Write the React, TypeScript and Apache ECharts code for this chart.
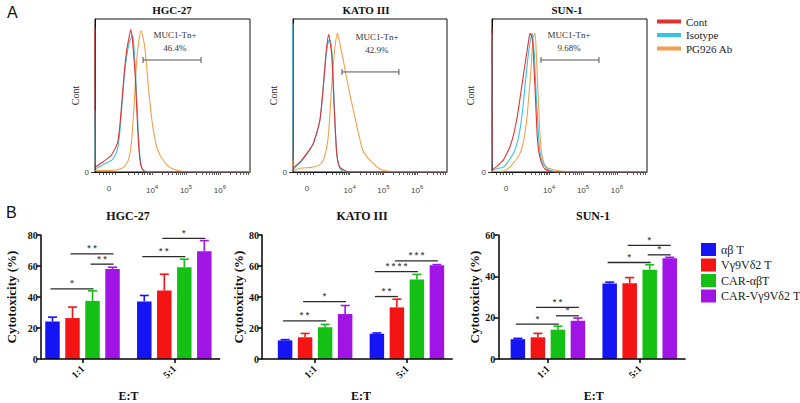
import { useEffect, useRef } from 'react';
import * as echarts from 'echarts';

const SERIF = '"Liberation Serif", "Times New Roman", serif';
const SANS = '"Liberation Sans", Arial, sans-serif';

// ---------------- Panel A: flow cytometry histograms ----------------
const histTitles = ['HGC-27', 'KATO III', 'SUN-1'];
const histNames = ['Cont', 'Isotype', 'PG926 Ab'];
const histColors = ['#e0342f', '#33c4e8', '#f2a04c'];
const gateName = 'MUC1-Tn+';
const gatePercents = ['46.4%', '42.9%', '9.68%'];
// [gateStart, gateEnd, gateY, labelX, labelY]
const gates = [
  [31, 68.4, 73.2, 51.6, 89.5],
  [31.8, 68.8, 65.4, 54.5, 88.2],
  [31.6, 69, 73.2, 49.7, 89.5],
];
const fluorTickLabels = ['0', '10^4', '10^5', '10^6'];
const fluorTickPos = [9, 36.8, 58.7, 80.6];

const hgcCont = [[0, 94], [0.6, 3.5], [5.2, 6.7], [9.7, 10], [11.8, 13], [14.5, 19], [16, 30], [17.5, 48], [19, 66], [20.5, 80], [22, 88], [23, 93], [24, 88], [25, 76], [26, 62], [27, 40], [28, 20], [29, 8], [30, 3], [31.5, 0.8], [34, 0], [100, 0]];
const hgcIso = [[0, 40], [0.5, 2], [5.2, 4.8], [10.8, 7.8], [13, 11], [14.5, 15], [16, 26], [17.5, 45], [19, 64], [20.5, 76], [22, 84], [23.5, 88], [24.3, 89.5], [25.2, 80], [26.2, 64], [27.2, 42], [28, 25], [29, 10], [30, 3.5], [31.5, 0.8], [34, 0], [100, 0]];
const hgcPg = [[0, 1], [10, 1], [16, 2], [19, 3.5], [21.5, 7.8], [23, 15], [24, 25], [25, 40], [26, 58], [27, 74], [28.2, 85], [29.7, 92.4], [31, 88], [32.3, 80], [33.4, 68], [34.5, 55], [35.6, 44], [36.8, 33], [38.2, 24], [39.8, 16.5], [42, 11], [44, 7.8], [46, 5], [48.4, 3], [51, 1.8], [54, 0.8], [58, 0.3], [100, 0.2]];

const katoCont = [[0, 0], [0.5, 3], [2.4, 4.6], [5, 7], [8.9, 12], [11, 15], [13.2, 18.7], [15.5, 26], [17.5, 34], [18.7, 45], [19.7, 56], [20.8, 70], [21.9, 82], [23.2, 90], [24.2, 84], [25.1, 77], [25.9, 62], [26.6, 45], [27.5, 27], [28.4, 12], [29.4, 6], [30.5, 3], [33.8, 0.8], [36, 0], [100, 0]];
const katoIso = [[0, 97], [0.4, 2], [2.4, 4], [5, 6.5], [8.9, 11.5], [13.2, 18.5], [17.5, 34], [19.7, 56], [21.9, 80], [23.4, 86], [24.2, 86], [25.2, 80], [26, 64], [26.8, 44], [27.6, 25], [28.4, 12], [29.5, 5], [31, 1.5], [34, 0], [100, 0]];
const katoPg = [[0, 8], [0.5, 1], [5, 2.5], [12, 3], [17, 4.5], [19.7, 7.8], [21.5, 14], [22.9, 23], [24, 38], [25.1, 56], [26.2, 70], [27.3, 82], [28.8, 90.6], [29.6, 88], [30.5, 84], [31.6, 78], [32.7, 73], [34.3, 64], [35.9, 56], [37.5, 48], [39.2, 40.5], [40.8, 33], [42.4, 25.5], [43.5, 21], [44.6, 16.5], [46.2, 12.5], [47.9, 10], [50, 7.5], [52.1, 5.7], [54.3, 3.5], [56.5, 2], [60, 0.8], [63, 0.4], [100, 0.2]];

const sunCont = [[0, 93], [0.5, 2], [3, 3.5], [5.2, 5.6], [7.3, 7.8], [9.5, 12], [11.6, 16.5], [13.8, 24], [15.9, 34], [17.5, 44], [19.2, 56], [20.8, 67], [22.4, 77.6], [23.5, 85], [24.5, 90.6], [25.5, 89], [26.3, 84], [27, 70], [27.7, 56], [28.5, 38], [29.2, 23], [30.2, 13], [31.4, 7.8], [32.8, 4], [34.2, 2], [37.4, 0.5], [40, 0], [100, 0]];
const sunIso = [[0, 90], [0.5, 1.5], [4, 2.5], [7.3, 3], [10.5, 7], [13.7, 12], [16, 18], [18, 27.5], [19.7, 40], [21.3, 56], [22.7, 70], [24.1, 82], [25.8, 90.6], [26.6, 85], [27.3, 77.6], [28, 62], [28.8, 45], [29.7, 30], [30.5, 16.5], [31.7, 9], [33, 5.7], [34.5, 3.5], [36.1, 2], [39.4, 0.5], [42, 0], [100, 0]];
const sunPg = [[0, 0.5], [7, 0.5], [10, 2], [13.7, 5.7], [18, 12], [20.3, 20], [22.4, 34], [23.8, 50], [25, 64.5], [25.8, 78], [26.6, 88.4], [27.7, 90.6], [28.3, 84], [28.8, 73], [29.6, 54], [30.5, 34], [31.2, 21], [32, 12], [33.5, 6], [35.3, 3], [38, 2], [41.8, 1], [48, 0.3], [100, 0.2]];

const histograms = [
  [hgcCont, hgcIso, hgcPg],
  [katoCont, katoIso, katoPg],
  [sunCont, sunIso, sunPg],
];

// ---------------- Panel B: cytotoxicity bars ----------------
const barTitles = ['HGC-27', 'KATO III', 'SUN-1'];
const ratios = ['1:1', '5:1'];
const groups = ['αβ T', 'Vγ9Vδ2 T', 'CAR-αβT', 'CAR-Vγ9Vδ2 T'];
const groupColors = ['#1414f5', '#f51414', '#14c014', '#a014e6'];

const hgcMean11 = [24.2, 26.4, 37.5, 58.1];
const hgcErr11 = [2.8, 7.1, 6.5, 1.1];
const hgcMean51 = [37.1, 44.2, 59.2, 69.5];
const hgcErr51 = [3.9, 10.5, 5.2, 6.9];
const katoMean11 = [12, 14, 20.5, 29];
const katoErr11 = [0.5, 2.5, 1.8, 5.5];
const katoMean51 = [16.3, 33.3, 51.3, 60.5];
const katoErr51 = [0.5, 5.3, 3.3, 0.4];
const sunMean11 = [9.6, 10.5, 14.2, 18.5];
const sunErr11 = [0.4, 1.9, 1.7, 1.3];
const sunMean51 = [36.5, 36.6, 43.2, 48.8];
const sunErr51 = [0.7, 2.8, 2.4, 0.4];
const yMaxes = [80, 80, 60];

// [ratioIndex, fromGroup, toGroup, y, stars]
const hgcSig = [[0, 0, 2, 45.2, '*'], [0, 1, 3, 67.8, '**'], [0, 2, 3, 61.2, '**'], [1, 0, 2, 66, '**'], [1, 1, 3, 77.8, '*']];
const katoSig = [[0, 0, 2, 24.6, '**'], [0, 1, 3, 37, '*'], [1, 0, 1, 40.3, '**'], [1, 0, 2, 56.4, '****'], [1, 1, 3, 63.3, '***']];
const sunSig = [[0, 0, 2, 16.9, '*'], [0, 1, 3, 25, '**'], [0, 2, 3, 20.9, '*'], [1, 0, 2, 46.7, '*'], [1, 1, 3, 55, '*'], [1, 2, 3, 50.4, '*']];

const barData = [
  { m11: hgcMean11, e11: hgcErr11, m51: hgcMean51, e51: hgcErr51, sig: hgcSig },
  { m11: katoMean11, e11: katoErr11, m51: katoMean51, e51: katoErr51, sig: katoSig },
  { m11: sunMean11, e11: sunErr11, m51: sunMean51, e51: sunErr51, sig: sunSig },
];

// ---------------- layout (positions/styles only) ----------------
const histLayout = [
  { left: 95, width: 155, nameGap: 11 },
  { left: 293, width: 154, nameGap: 15 },
  { left: 492, width: 155, nameGap: 17 },
];
const HIST_TOP = 19;
const HIST_H = 153;
const barLayout = [
  { left: 36.6, offset: -4.1, nameGap: 23 },
  { left: 269.2, offset: 7.2, nameGap: 15 },
  { left: 502, offset: 3.7, nameGap: 15 },
];
const BAR_W_GRID = 183.6;
const BAR_TOP = 235;
const BAR_H = 124.5;
const BAR_W = 14.5;
const BAR_GAP = 0.38;
const PITCH = BAR_W * (1 + BAR_GAP);
const CAP = 9;

function minorTicks(): number[] {
  const w = fluorTickPos[2] - fluorTickPos[1];
  const out: number[] = [3, 5, 7, 9, 11, 13];
  for (let d = -1; d <= 3; d++) {
    const base = fluorTickPos[1] + d * w;
    for (let k = 1; k <= 9; k++) {
      const p = base + Math.log10(k) * w;
      if (p > 15 && p < 100) out.push(+p.toFixed(2));
    }
  }
  return out;
}

export default function App() {
  const ref = useRef<HTMLDivElement>(null);

  useEffect(() => {
    if (!ref.current) return;
    const chart = echarts.init(ref.current, undefined, { renderer: 'svg' });

    const grids: any[] = [];
    const xAxes: any[] = [];
    const yAxes: any[] = [];
    const series: any[] = [];
    const ticks = minorTicks();

    // ---- histograms ----
    histLayout.forEach((L, i) => {
      grids.push({
        left: L.left, top: HIST_TOP, width: L.width, height: HIST_H,
        show: true, borderColor: '#111', borderWidth: 1, containLabel: false,
      });
      xAxes.push({
        type: 'value', gridIndex: i, min: 0, max: 100,
        axisLine: { show: true, lineStyle: { color: '#111', width: 1 } },
        axisTick: { show: true, customValues: ticks, length: 3, lineStyle: { color: '#333', width: 0.8 } },
        axisLabel: {
          show: true, customValues: fluorTickPos, margin: 12,
          formatter: (v: number) => {
            const idx = fluorTickPos.findIndex((p) => Math.abs(p - v) < 1e-6);
            const s = fluorTickLabels[idx] ?? '';
            if (s.includes('^')) {
              const [b, e] = s.split('^');
              return `{b|${b}}{s|${e}}`;
            }
            return `{b|${s}}`;
          },
          rich: {
            b: { fontSize: 8, color: '#444', fontFamily: SANS },
            s: { fontSize: 6, color: '#444', fontFamily: SANS, padding: [0, 0, 7, 0] },
          },
        },
        splitLine: { show: false },
      });
      yAxes.push({
        type: 'value', gridIndex: i, min: 0, max: 100,
        name: 'Cont', nameLocation: 'middle', nameGap: L.nameGap, nameRotate: 90,
        nameTextStyle: { fontFamily: SERIF, fontSize: 10, color: '#222' },
        axisLine: { show: true, lineStyle: { color: '#111', width: 1 } },
        axisTick: { show: true, customValues: [0], length: 4, lineStyle: { color: '#333' } },
        axisLabel: { show: true, customValues: [0], fontSize: 8, color: '#444', fontFamily: SANS, margin: 6 },
        splitLine: { show: false },
      });
      const curves = histograms[i];
      [2, 1, 0].forEach((k) => {
        series.push({
          type: 'line', name: histNames[k], xAxisIndex: i, yAxisIndex: i,
          data: curves[k], showSymbol: false, symbol: 'none', smooth: 0.2,
          lineStyle: { color: histColors[k], width: 1.1 },
          itemStyle: { color: histColors[k] },
          clip: true, z: 3,
        });
      });
      const g = gates[i];
      series.push({
        type: 'custom', xAxisIndex: i, yAxisIndex: i, z: 5,
        data: [g],
        renderItem: (_p: any, api: any) => {
          const a = api.coord([api.value(0), api.value(2)]);
          const b = api.coord([api.value(1), api.value(2)]);
          const t = api.coord([api.value(3), api.value(4)]);
          const st = { stroke: '#555', lineWidth: 1 };
          return {
            type: 'group',
            children: [
              { type: 'line', shape: { x1: a[0], y1: a[1], x2: b[0], y2: b[1] }, style: st },
              { type: 'line', shape: { x1: a[0], y1: a[1] - 3, x2: a[0], y2: a[1] + 3 }, style: st },
              { type: 'line', shape: { x1: b[0], y1: b[1] - 3, x2: b[0], y2: b[1] + 3 }, style: st },
              { type: 'text', x: t[0], y: t[1], style: { text: gateName, align: 'center', verticalAlign: 'middle', font: `9px ${SERIF}`, fill: '#333' } },
              { type: 'text', x: t[0], y: t[1] + 13, style: { text: gatePercents[i], align: 'center', verticalAlign: 'middle', font: `9px ${SERIF}`, fill: '#333' } },
            ],
          };
        },
      });
    });

    // ---- bar charts ----
    barLayout.forEach((L, j) => {
      const gi = 3 + j;
      const D = barData[j];
      grids.push({ left: L.left, top: BAR_TOP, width: BAR_W_GRID, height: BAR_H, containLabel: false });
      xAxes.push({
        type: 'category', gridIndex: gi, data: ratios,
        axisLine: { show: false },
        axisTick: { show: true, alignWithLabel: true, length: 4, lineStyle: { color: '#000', width: 1.5 } },
        axisLabel: { rotate: 45, fontFamily: SERIF, fontWeight: 'bold', fontSize: 10, color: '#111', margin: 8 },
        name: 'E:T', nameLocation: 'middle', nameGap: 31,
        nameTextStyle: { fontFamily: SERIF, fontWeight: 'bold', fontSize: 12, color: '#111' },
      });
      yAxes.push({
        type: 'value', gridIndex: gi, min: 0, max: yMaxes[j], interval: 20, offset: L.offset,
        name: 'Cytotoxicity (%)', nameLocation: 'middle', nameRotate: 90, nameGap: L.nameGap,
        nameTextStyle: { fontFamily: SERIF, fontWeight: 'bold', fontSize: 13, color: '#111' },
        axisLine: { show: true, lineStyle: { color: '#000', width: 1.5 } },
        axisTick: { show: true, length: 4, lineStyle: { color: '#000', width: 1.5 } },
        axisLabel: { fontFamily: SERIF, fontWeight: 'bold', fontSize: 10, color: '#111', margin: 3 },
        splitLine: { show: false },
      });
      groups.forEach((name, g) => {
        series.push({
          type: 'bar', name, xAxisIndex: gi, yAxisIndex: gi,
          data: [D.m11[g], D.m51[g]],
          barWidth: BAR_W, barGap: `${BAR_GAP * 100}%`,
          itemStyle: { color: groupColors[g] },
          z: 2,
        });
      });
      // baseline (x axis line starting at the y axis)
      series.push({
        type: 'custom', xAxisIndex: gi, yAxisIndex: gi, z: 4, data: [[0, 0]],
        renderItem: (params: any) => {
          const cs = params.coordSys;
          const y = cs.y + cs.height;
          return { type: 'line', shape: { x1: cs.x - L.offset, y1: y, x2: cs.x + cs.width, y2: y }, style: { stroke: '#000', lineWidth: 1.5 } };
        },
      });
      // error bars
      const errData: number[][] = [];
      groups.forEach((_n, g) => {
        errData.push([0, g, D.m11[g], D.e11[g]]);
        errData.push([1, g, D.m51[g], D.e51[g]]);
      });
      series.push({
        type: 'custom', xAxisIndex: gi, yAxisIndex: gi, z: 3, data: errData,
        renderItem: (_p: any, api: any) => {
          const cat = api.value(0), g = api.value(1), m = api.value(2), e = api.value(3);
          const base = api.coord([cat, m]);
          const top = api.coord([cat, m + e]);
          const x = base[0] + (g - 1.5) * PITCH;
          const st = { stroke: groupColors[g], lineWidth: 1.6 };
          return {
            type: 'group',
            children: [
              { type: 'line', shape: { x1: x, y1: base[1], x2: x, y2: top[1] }, style: st },
              { type: 'line', shape: { x1: x - CAP / 2, y1: top[1], x2: x + CAP / 2, y2: top[1] }, style: st },
            ],
          };
        },
      });
      // significance brackets
      series.push({
        type: 'custom', xAxisIndex: gi, yAxisIndex: gi, z: 5,
        data: D.sig.map((s) => [s[0], s[1], s[2], s[3]]),
        renderItem: (params: any, api: any) => {
          const cat = api.value(0), a = api.value(1), b = api.value(2), y = api.value(3);
          const p = api.coord([cat, y]);
          const x1 = p[0] + (a - 1.5) * PITCH - 2;
          const x2 = p[0] + (b - 1.5) * PITCH + 1;
          const stars = String(D.sig[params.dataIndex][4]).split('').join(' ');
          return {
            type: 'group',
            children: [
              { type: 'line', shape: { x1, y1: p[1], x2, y2: p[1] }, style: { stroke: '#2a2a2a', lineWidth: 1.3 } },
              { type: 'text', x: (x1 + x2) / 2, y: p[1] - 1, style: { text: stars, align: 'center', verticalAlign: 'bottom', font: `bold 9px ${SANS}`, fill: '#555' } },
            ],
          };
        },
      });
    });

    const graphic: any[] = [
      { type: 'text', left: 7, top: 4, style: { text: 'A', font: `16px ${SANS}`, fill: '#111' } },
      { type: 'text', left: 6, top: 204, style: { text: 'B', font: `16px ${SANS}`, fill: '#111' } },
    ];
    const histTitleX = [172, 366, 567];
    histTitles.forEach((t, i) => {
      graphic.push({ type: 'text', x: histTitleX[i], y: 10, style: { text: t, align: 'center', verticalAlign: 'middle', font: `bold 11px ${SERIF}`, fill: '#111' } });
    });
    const barTitleX = [128, 362, 593];
    barTitles.forEach((t, i) => {
      graphic.push({ type: 'text', x: barTitleX[i], y: 216, style: { text: t, align: 'center', verticalAlign: 'middle', font: `bold 12px ${SERIF}`, fill: '#111' } });
    });

    chart.setOption({
      animation: false,
      backgroundColor: '#ffffff',
      grid: grids,
      xAxis: xAxes,
      yAxis: yAxes,
      legend: [
        {
          data: histNames, orient: 'vertical', left: 652, top: 11, icon: 'rect',
          itemWidth: 24, itemHeight: 4, itemGap: 2.5, selectedMode: false,
          textStyle: { fontFamily: SERIF, fontSize: 11, color: '#222' },
        },
        {
          data: groups, orient: 'vertical', left: 696, top: 238, icon: 'rect',
          itemWidth: 15, itemHeight: 13, itemGap: 2.5, selectedMode: false,
          textStyle: { fontFamily: SERIF, fontSize: 12, color: '#222' },
        },
      ],
      graphic,
      series,
    });

    return () => chart.dispose();
  }, []);

  return <div ref={ref} style={{ position: 'absolute', left: 0, top: 0, width: 800, height: 403 }} />;
}
